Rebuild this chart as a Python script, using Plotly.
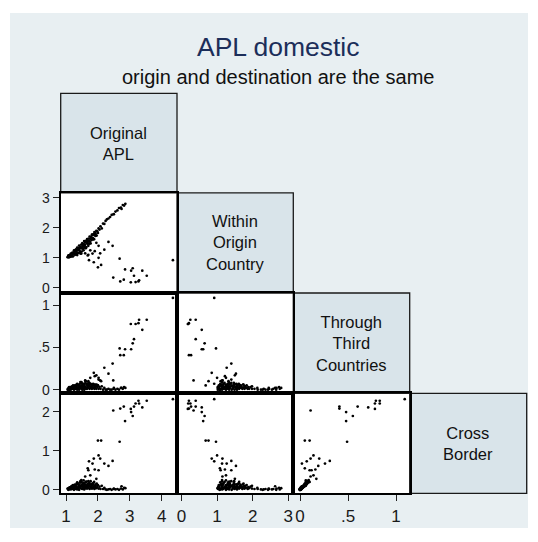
import plotly.graph_objects as go

# ---------------- data (one entry per observation) ----------------
original_apl = [
    # main cluster
    1.05, 1.06, 1.07, 1.08, 1.09, 1.10, 1.11, 1.12, 1.13, 1.14,
    1.15, 1.16, 1.18, 1.19, 1.20, 1.21, 1.22, 1.24, 1.25, 1.26,
    1.27, 1.28, 1.29, 1.30, 1.31, 1.32, 1.33, 1.34, 1.35, 1.36,
    1.37, 1.38, 1.39, 1.40, 1.41, 1.42, 1.43, 1.44, 1.45, 1.46,
    1.47, 1.48, 1.49, 1.50, 1.51, 1.52, 1.53, 1.54, 1.55, 1.56,
    1.57, 1.58, 1.59, 1.60, 1.61, 1.62, 1.63, 1.64, 1.65, 1.66,
    1.67, 1.68, 1.69, 1.70, 1.71, 1.72, 1.73, 1.74, 1.75, 1.76,
    1.77, 1.78, 1.79, 1.80, 1.81, 1.82, 1.83, 1.84, 1.85, 1.86,
    1.87, 1.88, 1.89, 1.90, 1.91, 1.92, 1.93, 1.95, 1.96, 1.98,
    2.00, 2.02, 1.35, 1.45, 1.55, 1.62, 1.48, 1.52, 1.58, 1.66,
    2.05, 2.08, 2.12, 2.16, 2.20,
    # diagonal tail
    2.24, 2.28, 2.33, 2.38, 2.43, 2.49, 2.55, 2.61, 2.66, 2.72,
    2.78, 2.82, 2.86, 2.74, 2.50,
    # middle group
    2.02, 1.87, 2.07, 2.46, 1.72, 2.20, 1.83, 2.33, 2.02, 1.70,
    1.76, 1.60, 1.95, 1.68, 1.90,
    # cross border ~1.25
    2.00, 2.10, 2.68,
    # high cross border group
    4.35, 3.53, 3.27, 3.18, 3.29, 3.13, 3.39, 3.03, 2.81, 2.70,
    2.48, 3.04, 3.09, 2.85,
]

within_origin = [
    1.02, 1.03, 1.07, 1.02, 1.08, 1.02, 1.09, 1.04, 1.09, 1.04,
    1.14, 1.05, 1.14, 1.05, 1.17, 1.13, 1.05, 1.17, 1.25, 1.13,
    1.22, 1.10, 1.25, 1.15, 1.28, 1.21, 1.12, 1.26, 1.34, 1.17,
    1.30, 1.16, 1.33, 1.26, 1.41, 1.25, 1.33, 1.19, 1.37, 1.34,
    1.32, 1.44, 1.21, 1.32, 1.49, 1.32, 1.46, 1.30, 1.41, 1.45,
    1.56, 1.36, 1.43, 1.51, 1.33, 1.56, 1.55, 1.36, 1.49, 1.62,
    1.47, 1.56, 1.48, 1.40, 1.64, 1.56, 1.47, 1.71, 1.54, 1.63,
    1.48, 1.70, 1.69, 1.59, 1.77, 1.66, 1.77, 1.66, 1.61, 1.76,
    1.79, 1.62, 1.86, 1.77, 1.84, 1.73, 1.79, 1.90, 1.74, 1.88,
    1.83, 1.98, 1.09, 1.14, 1.25, 1.32, 1.14, 1.38, 1.54, 1.59,
    1.94, 2.05, 1.98, 2.14, 2.13,
    2.23, 2.28, 2.31, 2.36, 2.43, 2.46, 2.54, 2.58, 2.66, 2.67,
    2.76, 2.74, 2.80, 2.63, 2.45,
    1.00, 0.85, 1.15, 1.40, 0.92, 1.27, 1.14, 1.53, 1.40, 1.10,
    1.25, 1.15, 1.50, 1.08, 1.22,
    0.68, 0.76, 0.97,
    0.92, 0.40, 0.21, 0.19, 0.25, 0.40, 0.57, 0.18, 0.27, 0.21,
    0.34, 0.57, 0.65, 0.61,
]

through_third = [
    0.00, 0.01, 0.00, 0.02, 0.00, 0.03, 0.00, 0.02, 0.01, 0.03,
    0.00, 0.03, 0.01, 0.04, 0.01, 0.02, 0.05, 0.02, 0.00, 0.04,
    0.01, 0.05, 0.01, 0.04, 0.01, 0.03, 0.06, 0.02, 0.00, 0.05,
    0.02, 0.06, 0.02, 0.04, 0.00, 0.05, 0.03, 0.07, 0.02, 0.03,
    0.04, 0.01, 0.08, 0.05, 0.00, 0.06, 0.02, 0.07, 0.05, 0.03,
    0.00, 0.07, 0.04, 0.03, 0.09, 0.02, 0.01, 0.07, 0.06, 0.01,
    0.06, 0.04, 0.05, 0.08, 0.02, 0.05, 0.08, 0.01, 0.07, 0.04,
    0.07, 0.02, 0.03, 0.06, 0.01, 0.05, 0.02, 0.05, 0.07, 0.02,
    0.02, 0.06, 0.01, 0.04, 0.02, 0.06, 0.04, 0.01, 0.06, 0.03,
    0.05, 0.01, 0.07, 0.09, 0.06, 0.10, 0.09, 0.04, 0.01, 0.02,
    0.03, 0.01, 0.04, 0.00, 0.02,
    0.00, 0.00, 0.01, 0.00, 0.00, 0.01, 0.00, 0.01, 0.00, 0.02,
    0.01, 0.03, 0.02, 0.02, 0.02,
    0.14, 0.20, 0.11, 0.31, 0.07, 0.26, 0.02, 0.19, 0.12, 0.10,
    0.14, 0.11, 0.17, 0.05, 0.16,
    0.05, 0.10, 0.49,
    1.09, 0.83, 0.79, 0.78, 0.83, 0.60, 0.71, 0.78, 0.41, 0.41,
    0.11, 0.48, 0.55, 0.48,
]

cross_border = [
    0.03, 0.02, 0.00, 0.04, 0.01, 0.05, 0.02, 0.06, 0.03, 0.07,
    0.01, 0.08, 0.03, 0.10, 0.02, 0.06, 0.12, 0.05, 0.00, 0.09,
    0.04, 0.13, 0.03, 0.11, 0.02, 0.08, 0.15, 0.06, 0.01, 0.14,
    0.05, 0.16, 0.04, 0.10, 0.00, 0.12, 0.07, 0.18, 0.06, 0.09,
    0.11, 0.03, 0.20, 0.13, 0.02, 0.14, 0.05, 0.17, 0.09, 0.08,
    0.01, 0.15, 0.12, 0.06, 0.19, 0.04, 0.07, 0.21, 0.10, 0.03,
    0.14, 0.08, 0.16, 0.22, 0.05, 0.11, 0.18, 0.02, 0.14, 0.09,
    0.22, 0.06, 0.07, 0.15, 0.03, 0.11, 0.04, 0.13, 0.17, 0.08,
    0.06, 0.20, 0.02, 0.09, 0.05, 0.13, 0.10, 0.04, 0.16, 0.07,
    0.12, 0.03, 0.19, 0.22, 0.24, 0.20, 0.25, 0.10, 0.03, 0.05,
    0.08, 0.02, 0.10, 0.02, 0.05,
    0.01, 0.00, 0.01, 0.02, 0.00, 0.02, 0.01, 0.02, 0.00, 0.03,
    0.01, 0.05, 0.04, 0.09, 0.03,
    0.88, 0.80, 0.80, 0.74, 0.73, 0.67, 0.67, 0.61, 0.50, 0.50,
    0.37, 0.34, 0.28, 0.55, 0.52,
    1.26, 1.26, 1.23,
    2.32, 2.28, 2.28, 2.21, 2.21, 2.13, 2.11, 2.07, 2.13, 2.08,
    2.03, 1.99, 1.89, 1.76,
]

variable_labels = [
    ["Original", "APL"],
    ["Within", "Origin", "Country"],
    ["Through", "Third", "Countries"],
    ["Cross", "Border"],
]

tick_values = [[1, 2, 3, 4], [0, 1, 2, 3], [0, 0.5, 1], [0, 1, 2]]
tick_texts = [["1", "2", "3", "4"], ["0", "1", "2", "3"], ["0", ".5", "1"], ["0", "1", "2"]]

title_text = "APL domestic"
subtitle_text = "origin and destination are the same"

# ---------------- layout geometry (window pixels) ----------------
OFF = 8  # page body margin
FIG_W, FIG_H = 522, 526
col_edges = [60.7, 177.0, 293.3, 409.7, 526.7]
row_edges = [91.5, 192.3, 293.8, 395.5, 496.8]

x_ranges = [[0.833, 4.478], [-0.125, 3.14], [-0.07, 1.142]]
y_ranges = [None, [-0.175, 3.166], [-0.044, 1.148], [-0.09, 2.47]]

FONT = "Liberation Sans, Arial, Helvetica, sans-serif"
BG = "#E8EFF2"
BOX = "#D9E4EA"


def fx(p):
    return (p - OFF) / FIG_W


def fy(p):
    return 1 - (p - OFF) / FIG_H


data = [original_apl, within_origin, through_third, cross_border]

fig = go.Figure()
shapes = [
    dict(type="rect", xref="paper", yref="paper", x0=fx(10), x1=fx(528),
         y0=fy(532), y1=fy(10), fillcolor=BG, line=dict(width=0), layer="below")
]
annotations = []
layout_axes = {}

k = 0
for i in range(1, 4):
    for j in range(0, i):
        k += 1
        xa = "x" if k == 1 else f"x{k}"
        ya = "y" if k == 1 else f"y{k}"
        fig.add_trace(go.Scatter(
            x=data[j], y=data[i], mode="markers",
            marker=dict(size=2.7, color="black", line=dict(width=0)),
            xaxis=xa, yaxis=ya, showlegend=False, hoverinfo="skip",
        ))
        x0, x1 = col_edges[j], col_edges[j + 1]
        y0, y1 = row_edges[i], row_edges[i + 1]
        shapes.append(dict(type="rect", xref="paper", yref="paper",
                           x0=fx(x0), x1=fx(x1), y0=fy(y1), y1=fy(y0),
                           fillcolor="white", line=dict(width=0), layer="below"))
        show_x = (i == 3)
        show_y = (j == 0)
        xname = "xaxis" if k == 1 else f"xaxis{k}"
        yname = "yaxis" if k == 1 else f"yaxis{k}"
        layout_axes[xname] = dict(
            domain=[fx(x0), fx(x1)], range=x_ranges[j], anchor=ya,
            showgrid=False, zeroline=False, showline=True, mirror=True,
            linecolor="black", linewidth=2,
            ticks="outside" if show_x else "", ticklen=6, tickwidth=1, tickcolor="#222",
            tickvals=tick_values[j], ticktext=tick_texts[j],
            showticklabels=show_x,
            tickfont=dict(family=FONT, size=17, color="#1a1a1a"),
        )
        layout_axes[yname] = dict(
            domain=[fy(y1), fy(y0)], range=y_ranges[i], anchor=xa,
            showgrid=False, zeroline=False, showline=True, mirror=True,
            linecolor="black", linewidth=2,
            ticks="outside" if show_y else "", ticklen=6, tickwidth=1, tickcolor="#222",
            tickvals=tick_values[i], ticktext=tick_texts[i],
            showticklabels=show_y,
            tickfont=dict(family=FONT, size=14, color="#1a1a1a"),
        )

# diagonal label boxes
for d in range(4):
    x0, x1 = col_edges[d], col_edges[d + 1]
    y0, y1 = row_edges[d], row_edges[d + 1]
    shapes.append(dict(type="rect", xref="paper", yref="paper",
                       x0=fx(x0), x1=fx(x1), y0=fy(y1), y1=fy(y0),
                       fillcolor=BOX, line=dict(color="#1a1a1a", width=1.3), layer="below"))
    cx = (x0 + x1) / 2
    cy = (y0 + y1) / 2
    annotations.append(dict(text="<br>".join(variable_labels[d]),
                            x=fx(cx), y=fy(cy), xref="paper", yref="paper",
                            showarrow=False, xanchor="center", yanchor="middle",
                            align="center",
                            font=dict(family=FONT, size=16.5, color="#111111")))

annotations.append(dict(text=title_text, x=fx(278), y=fy(44), xref="paper", yref="paper",
                        showarrow=False, xanchor="center", yanchor="middle",
                        font=dict(family=FONT, size=26.5, color="#1C2E5A")))
annotations.append(dict(text=subtitle_text, x=fx(278), y=fy(74.5), xref="paper", yref="paper",
                        showarrow=False, xanchor="center", yanchor="middle",
                        font=dict(family=FONT, size=20, color="#111111")))

fig.update_layout(
    width=FIG_W, height=FIG_H, autosize=False,
    margin=dict(l=0, r=0, t=0, b=0),
    paper_bgcolor="white", plot_bgcolor="white",
    shapes=shapes, annotations=annotations, showlegend=False,
    font=dict(family=FONT),
    **layout_axes,
)

fig.write_html("out.html", config={"displayModeBar": False})
